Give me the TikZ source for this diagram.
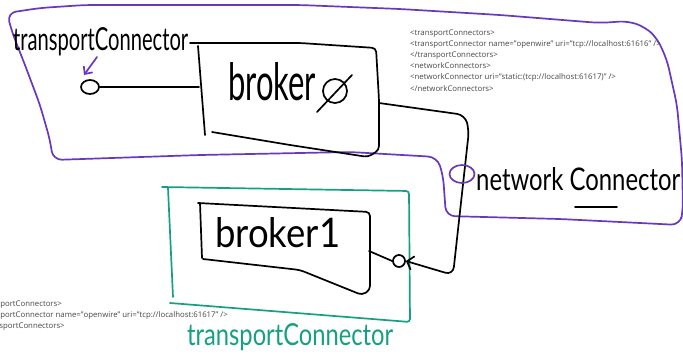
\documentclass[tikz,border=0pt]{standalone}
\usepackage{fontspec}
\setmainfont{Open Sans}
\newfontfamily\hand{Lato}
\usetikzlibrary{arrows.meta,shapes.geometric}
\definecolor{pur}{RGB}{104,56,190}
\definecolor{tea}{RGB}{22,160,130}
\definecolor{codegray}{RGB}{70,70,70}
\tikzset{
  ink/.style={line width=1.7pt, line cap=round, line join=round},
  codetext/.style={font=\fontsize{7.8}{7.8}\selectfont, text=codegray, anchor=base west, inner sep=0pt},
  hw/.style={anchor=base west, inner sep=0pt},
  portc/.style={circle, draw, ink, inner sep=0pt},
  porte/.style={ellipse, draw, ink, inner sep=0pt},
}
\newcommand\hwtext[3]{\resizebox{#1}{#2}{\hand #3}}
\begin{document}
\begin{tikzpicture}[x=1pt,y=-1pt]
\useasboundingbox (0,0) rectangle (683,359);
\clip (0,0) rectangle (683,359);
\fill[white] (0,0) rectangle (683,359);

% purple region (broker host)
\draw[ink,pur,rounded corners=9pt] (7,13) -- (40,8) -- (85,5) -- (300,5) -- (400,9) -- (500,15) -- (600,23) -- (628,21) -- (645,27) -- (657,38) -- (667,60) -- (677,105) -- (682,160) -- (683,210) -- (680,225) -- (560,219) -- (446,216) -- (443,175) -- (437,157) -- (350,152) -- (200,155) -- (53,160) -- (50,140) -- (40,105) -- (25,65) -- (12,32) -- cycle;

% teal region
\draw[ink,tea,rounded corners=3pt] (162,187) -- (409,191) -- (410,322) -- (170,303);
\draw[ink,tea] (168,188) -- (173,297);

% broker box
\draw[ink,rounded corners=4pt] (190,43) -- (300,43) -- (376,48) -- (379,100) -- (379,150) -- (368,157) -- (290,145) -- (212,132);
\draw[ink] (198,46) -- (205,135);
\coordinate (bL) at (199,87);
\coordinate (bR) at (379,103);
\node[hw] (brokertxt) at (228,100) {\hwtext{88pt}{38pt}{broker}};
\node[circle, draw, ink, minimum size=24pt, inner sep=0pt] (bport) at (335,91) {};
\draw[ink] (317,112) -- (352,75);

% broker1 box
\draw[ink,rounded corners=4pt] (198,203) -- (370,212) -- (370,290) -- (362,295) -- (300,270) -- (203,259);
\draw[ink] (200,203) -- (202,258);
\coordinate (b1R) at (369,251);
\node[hw] (broker1txt) at (215,247) {\hwtext{125pt}{30pt}{broker1}};

% transport connector port of broker
\node[porte, minimum width=18pt, minimum height=14pt] (tcport) at (90,87) {};
\draw[ink] (tcport.east) -- (bL);
\coordinate (arrtail) at (97,57);
\coordinate (arrtip) at (84,75);
\draw[ink,pur,-{Straight Barb[length=6pt,width=11pt]}] (arrtail) -- (arrtip);

% transport connector port of broker1
\node[portc, minimum size=12pt] (b1port) at (399,261) {};
\draw[ink] (b1R) -- (b1port.west);

% network connector
\draw[ink,rounded corners=8pt,-{Straight Barb[length=6pt,width=14pt]}] (bR) -- (465,115) -- (469,130) -- (453,275) -- (b1port.east);
\node[porte, pur, minimum width=25pt, minimum height=18pt] (ncport) at (462,174) {};

% labels
\node[hw] (tclabel) at (13,50) {\hwtext{175pt}{23pt}{transportConnector}};
\node[hw] (nclabel) at (476,190) {\hwtext{204pt}{23pt}{network Connector}};
\draw[ink] (575,207) -- (617,207);
\node[hw, text=tea] (tclabel1) at (187,345) {\hwtext{206pt}{22pt}{transportConnector}};

% code texts
\node[codetext] (c1) at (410,35.5) {<transportConnectors>};
\node[codetext] (c2) at (410,46.6) {<transportConnector name="openwire" uri="tcp://localhost:61616" />};
\node[codetext] (c3) at (410,57.7) {</transportConnectors>};
\node[codetext] (c4) at (410,68.8) {<networkConnectors>};
\node[codetext] (c5) at (410,79.9) {<networkConnector uri="static:(tcp://localhost:61617)" />};
\node[codetext] (c6) at (410,91) {</networkConnectors>};

\node[codetext] (d1) at (-23,306) {<transportConnectors>};
\node[codetext] (d2) at (-23,317) {<transportConnector name="openwire" uri="tcp://localhost:61617" />};
\node[codetext] (d3) at (-23,328) {</transportConnectors>};
\end{tikzpicture}
\end{document}
